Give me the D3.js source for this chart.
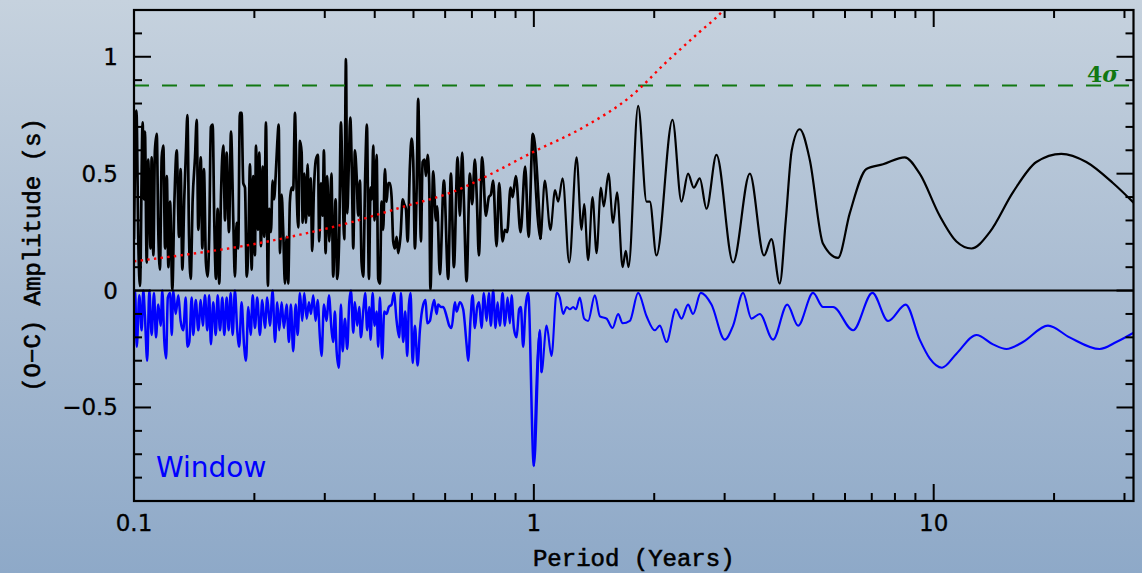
<!DOCTYPE html>
<html>
<head>
<meta charset="utf-8">
<script src="https://cdn.jsdelivr.net/npm/d3@7"></script>
<style>
  html, body { margin: 0; padding: 0; overflow: hidden; }
  svg { display: block; }
</style>
</head>
<body>
<svg id="chart" width="1142" height="573"></svg>
<script>
// Axis extents and ticks
const periodRange = [0.1, 31.6];
const ampRange = [-0.9, 1.2];
const xMajorTicks = [0.1, 1, 10];
const xMajorLabels = ["0.1", "1", "10"];
const xMinorTicks = [0.2, 0.3, 0.4, 0.5, 0.6, 0.7, 0.8, 0.9, 2, 3, 4, 5, 6, 7, 8, 9, 20, 30];
const yMajorTicks = [-0.5, 0, 0.5, 1];
const yMajorLabels = ["\u22120.5", "0", "0.5", "1"];
const yMinorTicks = [-0.8, -0.7, -0.6, -0.4, -0.3, -0.2, -0.1, 0.1, 0.2, 0.3, 0.4, 0.6, 0.7, 0.8, 0.9, 1.1];

// 4-sigma significance level
const sigmaLevel = 0.877;

// Detection threshold curve [period (yr), amplitude (s)]
const thresholdCurve = [
  [0.1, 0.125], [0.146, 0.162], [0.184, 0.188], [0.260, 0.239], [0.347, 0.291],
  [0.454, 0.350], [0.665, 0.440], [0.776, 0.496], [1.0, 0.594], [1.326, 0.697],
  [1.768, 0.838], [2.15, 0.979], [2.60, 1.107], [2.95, 1.192], [3.2, 1.27]
];

// O-C amplitude spectrum [period (yr), amplitude (s)]
const ocSpectrum = [
  [0.1000,0.22],[0.1014,0.77],[0.1026,0.18],[0.1035,0.02],[0.1051,0.72],[0.1059,0.39],[0.1065,0.68],[0.1076,0.12],
  [0.1085,0.56],[0.1100,0.18],[0.1107,0.57],[0.1118,0.15],[0.1128,0.60],[0.1140,0.67],[0.1150,0.26],[0.1161,0.09],
  [0.1173,0.57],[0.1184,0.62],[0.1196,0.18],[0.1208,0.49],[0.1219,0.10],[0.1231,0.38],[0.1247,0.005],[0.1261,0.36],
  [0.1279,0.60],[0.1296,0.23],[0.1308,0.52],[0.1321,0.09],[0.1336,0.40],[0.1349,0.60],[0.1360,0.75],[0.1373,0.23],
  [0.1386,0.05],[0.1402,0.39],[0.1421,0.57],[0.1435,0.73],[0.1448,0.26],[0.1469,0.57],[0.1482,0.18],[0.1496,0.52],
  [0.1513,0.12],[0.1528,0.06],[0.1542,0.23],[0.1557,0.70],[0.1573,0.71],[0.1588,0.29],[0.1603,0.05],[0.1619,0.35],
  [0.1634,0.03],[0.1650,0.40],[0.1672,0.62],[0.1689,0.30],[0.1705,0.59],[0.1728,0.25],[0.1748,0.68],[0.1772,0.29],
  [0.1788,0.06],[0.1806,0.29],[0.1822,0.18],[0.1840,0.76],[0.1858,0.76],[0.1876,0.46],[0.1895,0.44],[0.1914,0.06],
  [0.1931,0.18],[0.1950,0.54],[0.1969,0.09],[0.1987,0.49],[0.2007,0.15],[0.2018,0.62],[0.2042,0.26],[0.2057,0.59],
  [0.2077,0.19],[0.2098,0.53],[0.2117,0.23],[0.2138,0.72],[0.2162,0.02],[0.2179,0.35],[0.2200,0.25],[0.2222,0.47],
  [0.2239,0.39],[0.2261,0.49],[0.2282,0.63],[0.2301,0.71],[0.2318,0.16],[0.2340,0.41],[0.2362,0.25],[0.2385,0.03],
  [0.2408,0.23],[0.2430,0.03],[0.2454,0.38],[0.2478,0.44],[0.2501,0.43],[0.2527,0.76],[0.2551,0.43],[0.2575,0.27],
  [0.2600,0.64],[0.2626,0.59],[0.2641,0.29],[0.2666,0.50],[0.2692,0.29],[0.2718,0.54],[0.2739,0.32],[0.2766,0.48],
  [0.2791,0.17],[0.2818,0.43],[0.2851,0.56],[0.2884,0.58],[0.2905,0.21],[0.2934,0.46],[0.2963,0.32],[0.2985,0.60],
  [0.3014,0.16],[0.3042,0.49],[0.3078,0.21],[0.3117,0.50],[0.3149,0.06],[0.3193,0.39],[0.3223,0.05],[0.3260,0.23],
  [0.3292,0.72],[0.3325,0.44],[0.3356,0.22],[0.3389,0.99],[0.3414,0.33],[0.3448,0.56],[0.3474,0.74],[0.3508,0.49],
  [0.3535,0.18],[0.3568,0.60],[0.3604,0.49],[0.3637,0.32],[0.3673,0.47],[0.3708,0.12],[0.3743,0.06],[0.3786,0.49],
  [0.3824,0.71],[0.3868,0.05],[0.3906,0.44],[0.3935,0.39],[0.3965,0.62],[0.3997,0.30],[0.4044,0.58],[0.4081,0.05],
  [0.4121,0.03],[0.4161,0.38],[0.4200,0.26],[0.4241,0.52],[0.4283,0.38],[0.4322,0.46],[0.4365,0.46],[0.4408,0.40],
  [0.4449,0.21],[0.4493,0.18],[0.4537,0.23],[0.4579,0.16],[0.4643,0.24],[0.4697,0.39],[0.4740,0.37],[0.4787,0.35],
  [0.4834,0.21],[0.4898,0.53],[0.4946,0.65],[0.4992,0.56],[0.5041,0.18],[0.5091,0.43],[0.5137,0.82],[0.5188,0.40],
  [0.5218,0.21],[0.5270,0.55],[0.5330,0.56],[0.5371,0.49],[0.5423,0.58],[0.5474,0.46],[0.5512,0.005],[0.5602,0.51],
  [0.5688,0.30],[0.5731,0.36],[0.5820,0.07],[0.5957,0.47],[0.6106,0.05],[0.6202,0.50],[0.6310,0.10],[0.6446,0.57],
  [0.6532,0.32],[0.6619,0.59],[0.6683,0.39],[0.6788,0.04],[0.6918,0.50],[0.7011,0.37],[0.7120,0.56],[0.7202,0.39],
  [0.7286,0.15],[0.7425,0.57],[0.7586,0.32],[0.7718,0.40],[0.7807,0.41],[0.7911,0.47],[0.8068,0.19],[0.8189,0.46],
  [0.8351,0.21],[0.8463,0.26],[0.8576,0.25],[0.8745,0.44],[0.8847,0.40],[0.9016,0.49],[0.9263,0.25],[0.9512,0.53],
  [0.9701,0.23],[0.994,0.67],[1.039,0.22],[1.065,0.47],[1.100,0.26],[1.130,0.43],[1.150,0.38],[1.180,0.48],
  [1.226,0.12],[1.279,0.57],[1.316,0.26],[1.336,0.37],[1.367,0.13],[1.402,0.40],[1.435,0.16],[1.471,0.44],
  [1.496,0.36],[1.537,0.50],[1.578,0.29],[1.615,0.42],[1.667,0.10],[1.698,0.17],[1.725,0.10],[1.823,0.79],
  [1.914,0.38],[1.950,0.38],[2.026,0.15],[2.222,0.73],[2.340,0.38],[2.430,0.50],[2.512,0.44],[2.600,0.48],
  [2.703,0.35],[2.862,0.58],[3.150,0.12],[3.468,0.50],[3.764,0.15],[3.928,0.22],[4.121,0.03],[4.266,0.30],
  [4.416,0.60],[4.624,0.69],[4.898,0.56],[5.288,0.20],[5.764,0.14],[6.166,0.33],[6.788,0.52],[7.469,0.54],
  [8.463,0.57],[9.226,0.50],[10.35,0.32],[11.40,0.21],[12.43,0.18],[13.81,0.25],[15.78,0.42],[18.06,0.55],
  [20.85,0.585],[24.08,0.55],[28.07,0.46],[31.62,0.376]
];

// Spectral window, plotted downward [period (yr), amplitude (s)]
const windowSpectrum = [
  [0.1000,0],[0.1006,0],[0.1016,-0.24],[0.1031,-0.02],[0.1045,-0.17],[0.1055,0],[0.1065,-0.11],[0.1079,-0.30],
  [0.1092,0],[0.1107,-0.19],[0.1122,-0.01],[0.1135,-0.20],[0.1150,-0.06],[0.1166,-0.15],[0.1177,0],[0.1191,-0.22],
  [0.1203,-0.29],[0.1215,-0.03],[0.1231,-0.01],[0.1243,-0.19],[0.1254,0],[0.1271,-0.10],[0.1291,-0.02],[0.1308,-0.13],
  [0.1328,-0.17],[0.1347,-0.03],[0.1360,-0.24],[0.1375,-0.22],[0.1394,-0.03],[0.1407,-0.19],[0.1427,-0.04],[0.1448,-0.17],
  [0.1469,-0.04],[0.1486,-0.15],[0.1505,-0.02],[0.1525,-0.17],[0.1542,-0.02],[0.1557,-0.23],[0.1578,-0.05],[0.1601,-0.19],
  [0.1619,-0.02],[0.1641,-0.17],[0.1663,-0.03],[0.1682,-0.19],[0.1705,-0.03],[0.1725,-0.17],[0.1745,-0.01],[0.1765,-0.19],
  [0.1788,0],[0.1812,-0.17],[0.1833,-0.24],[0.1858,-0.05],[0.1884,-0.23],[0.1906,-0.30],[0.1931,-0.07],[0.1958,-0.19],
  [0.1981,-0.02],[0.2007,-0.16],[0.2033,-0.03],[0.2065,-0.19],[0.2093,-0.04],[0.2125,-0.16],[0.2154,-0.03],[0.2187,-0.15],
  [0.2222,0],[0.2252,-0.22],[0.2282,-0.05],[0.2308,-0.17],[0.2340,-0.05],[0.2371,-0.16],[0.2408,-0.06],[0.2440,-0.22],
  [0.2468,-0.06],[0.2501,-0.26],[0.2537,-0.06],[0.2566,-0.19],[0.2600,-0.01],[0.2635,-0.13],[0.2666,-0.01],[0.2703,-0.12],
  [0.2739,-0.05],[0.2770,-0.10],[0.2807,-0.02],[0.2846,-0.13],[0.2879,-0.04],[0.2917,-0.20],[0.2945,-0.28],[0.2985,-0.06],
  [0.3032,-0.13],[0.3072,-0.02],[0.3120,-0.17],[0.3149,-0.22],[0.3180,-0.09],[0.3212,-0.26],[0.3254,-0.33],[0.3292,-0.06],
  [0.3325,-0.26],[0.3369,-0.12],[0.3414,-0.25],[0.3454,-0.05],[0.3488,0],[0.3535,-0.18],[0.3568,-0.05],[0.3616,-0.15],
  [0.3658,-0.07],[0.3694,-0.20],[0.3743,-0.09],[0.3786,-0.01],[0.3830,-0.17],[0.3875,-0.07],[0.3906,-0.21],[0.3951,-0.01],
  [0.3997,-0.15],[0.4044,-0.09],[0.4081,-0.24],[0.4121,-0.03],[0.4176,-0.29],[0.4224,-0.09],[0.4283,-0.10],[0.4340,-0.07],
  [0.4408,-0.06],[0.4467,-0.01],[0.4537,-0.13],[0.4606,-0.20],[0.4651,-0.01],[0.4712,-0.22],[0.4768,-0.09],[0.4823,-0.28],
  [0.4870,-0.06],[0.4918,-0.01],[0.4975,-0.31],[0.5041,-0.15],[0.5120,-0.32],[0.5188,-0.17],[0.5288,-0.06],[0.5361,-0.04],
  [0.5411,-0.14],[0.5495,-0.13],[0.5549,-0.09],[0.5633,-0.04],[0.5711,-0.10],[0.5764,-0.06],[0.5854,-0.07],[0.5932,-0.07],
  [0.6051,-0.11],[0.6142,-0.15],[0.6226,-0.16],[0.6346,-0.05],[0.6409,-0.09],[0.6532,-0.05],[0.6656,-0.08],[0.6788,-0.23],
  [0.6850,-0.30],[0.6946,-0.12],[0.7027,-0.02],[0.7120,-0.16],[0.7215,-0.07],[0.7298,-0.05],[0.7399,-0.16],[0.7499,-0.01],
  [0.7617,-0.13],[0.7718,-0.01],[0.7807,-0.15],[0.7911,0],[0.8021,-0.16],[0.8114,-0.05],[0.8222,-0.15],[0.8351,-0.01],
  [0.8463,-0.15],[0.8595,-0.03],[0.8709,-0.14],[0.8794,-0.02],[0.8913,-0.16],[0.9053,-0.20],[0.9189,-0.08],[0.9279,-0.07],
  [0.9402,-0.24],[0.9534,-0.07],[0.9677,-0.01],[1.000,-0.75],[1.035,-0.17],[1.045,-0.35],[1.076,-0.15],[1.107,-0.28],
  [1.140,-0.01],[1.161,-0.03],[1.184,-0.10],[1.208,-0.07],[1.231,-0.08],[1.254,-0.07],[1.274,-0.08],[1.303,-0.03],
  [1.336,-0.12],[1.367,-0.13],[1.421,-0.02],[1.463,-0.11],[1.520,-0.12],[1.573,-0.16],[1.625,-0.10],[1.667,-0.14],
  [1.738,-0.13],[1.823,-0.01],[1.914,-0.11],[2.007,-0.17],[2.065,-0.15],[2.146,-0.22],[2.265,-0.08],[2.340,-0.12],
  [2.430,-0.06],[2.501,-0.10],[2.615,-0.01],[2.781,-0.06],[3.002,-0.21],[3.150,-0.15],[3.336,-0.01],[3.501,-0.12],
  [3.673,-0.10],[3.965,-0.21],[4.303,-0.06],[4.579,-0.15],[4.992,-0.01],[5.288,-0.07],[5.602,-0.07],[6.284,-0.17],
  [7.027,-0.01],[7.687,-0.13],[8.511,-0.06],[9.226,-0.21],[9.772,-0.29],[10.49,-0.33],[11.40,-0.27],[12.79,-0.19],
  [14.07,-0.23],[15.20,-0.25],[16.72,-0.22],[19.31,-0.15],[21.87,-0.20],[26.00,-0.25],[28.62,-0.22],[31.62,-0.18]
];

// Period where the densely sampled part of each spectrum ends
const densePeriodLimit = 1.0;

const W = 1142, H = 573;
const frame = { left: 134, right: 1133.5, top: 10, bottom: 501 };
const svg = d3.select("#chart");

// Background wash
const defs = svg.append("defs");
const grad = defs.append("linearGradient").attr("id", "bg").attr("x1", 0).attr("y1", 0).attr("x2", 0).attr("y2", 1);
grad.append("stop").attr("offset", "0%").attr("stop-color", "#c6d2de");
grad.append("stop").attr("offset", "50%").attr("stop-color", "#a9bcd2");
grad.append("stop").attr("offset", "100%").attr("stop-color", "#8ea9c8");
svg.append("rect").attr("width", W).attr("height", H).attr("fill", "url(#bg)");

defs.append("clipPath").attr("id", "plotClip").append("rect")
  .attr("x", frame.left).attr("y", frame.top)
  .attr("width", frame.right - frame.left).attr("height", frame.bottom - frame.top);

const x = d3.scaleLog().domain(periodRange).range([frame.left, frame.right]);
const y = d3.scaleLinear().domain(ampRange).range([frame.bottom, frame.top]);

const line = d3.line().x(d => x(d[0])).y(d => y(d[1])).curve(d3.curveMonotoneX);
const plot = svg.append("g").attr("clip-path", "url(#plotClip)");

// Draw a spectrum: heavier stroke where sampling is dense, lighter in the smooth long-period part
function drawSpectrum(data, color, denseWidth, smoothWidth) {
  const dense = data.filter(d => d[0] <= densePeriodLimit * 1.05);
  const smooth = data.filter(d => d[0] >= densePeriodLimit * 0.99);
  plot.append("path").datum(smooth)
    .attr("d", line).attr("fill", "none")
    .attr("stroke", color).attr("stroke-width", smoothWidth).attr("stroke-linejoin", "round");
  plot.append("path").datum(dense)
    .attr("d", line).attr("fill", "none")
    .attr("stroke", color).attr("stroke-width", denseWidth).attr("stroke-linejoin", "round");
}

drawSpectrum(windowSpectrum, "#0000ff", 2.5, 2.1);
drawSpectrum(ocSpectrum, "#000000", 2.7, 2.2);

// Zero line
plot.append("line")
  .attr("x1", frame.left).attr("x2", frame.right)
  .attr("y1", y(0)).attr("y2", y(0))
  .attr("stroke", "#000").attr("stroke-width", 2);

// 4-sigma line
plot.append("line")
  .attr("x1", frame.left).attr("x2", frame.right)
  .attr("y1", y(sigmaLevel)).attr("y2", y(sigmaLevel))
  .attr("stroke", "#127812").attr("stroke-width", 2.2)
  .attr("stroke-dasharray", "15 13");

// Threshold curve (red dotted)
plot.append("path").datum(thresholdCurve)
  .attr("d", line).attr("fill", "none")
  .attr("stroke", "#ff0000").attr("stroke-width", 2.4)
  .attr("stroke-dasharray", "2.4 4.3");

// Frame
svg.append("rect")
  .attr("x", frame.left).attr("y", frame.top)
  .attr("width", frame.right - frame.left).attr("height", frame.bottom - frame.top)
  .attr("fill", "none").attr("stroke", "#000").attr("stroke-width", 2.2);

// Inward ticks on all four sides
const ticks = svg.append("g").attr("stroke", "#000").attr("stroke-width", 2);
const majorLen = 17, minorLen = 8;
function xTick(v, len) {
  ticks.append("line").attr("x1", x(v)).attr("x2", x(v)).attr("y1", frame.bottom).attr("y2", frame.bottom - len);
  ticks.append("line").attr("x1", x(v)).attr("x2", x(v)).attr("y1", frame.top).attr("y2", frame.top + len);
}
function yTick(v, len) {
  ticks.append("line").attr("y1", y(v)).attr("y2", y(v)).attr("x1", frame.left).attr("x2", frame.left + len);
  ticks.append("line").attr("y1", y(v)).attr("y2", y(v)).attr("x1", frame.right).attr("x2", frame.right - len);
}
xMajorTicks.forEach(v => xTick(v, majorLen));
xMinorTicks.forEach(v => xTick(v, minorLen));
yMajorTicks.forEach(v => yTick(v, majorLen));
yMinorTicks.forEach(v => yTick(v, minorLen));

// Tick labels
const labelFont = "'DejaVu Sans', sans-serif";
svg.append("g").selectAll("text").data(xMajorTicks).join("text")
  .attr("x", d => x(d)).attr("y", 531)
  .attr("text-anchor", "middle")
  .attr("font-family", labelFont).attr("font-size", 23)
  .attr("fill", "#000").attr("stroke", "#000").attr("stroke-width", 0.3)
  .text((d, i) => xMajorLabels[i]);

svg.append("g").selectAll("text").data(yMajorTicks).join("text")
  .attr("x", 118).attr("y", d => y(d) + 8)
  .attr("text-anchor", "end")
  .attr("font-family", labelFont).attr("font-size", 23)
  .attr("fill", "#000").attr("stroke", "#000").attr("stroke-width", 0.3)
  .text((d, i) => yMajorLabels[i]);

// Axis titles
const titleFont = "'Liberation Mono', monospace";
svg.append("text")
  .attr("x", (frame.left + frame.right) / 2).attr("y", 566)
  .attr("text-anchor", "middle")
  .attr("font-family", titleFont).attr("font-size", 24)
  .attr("fill", "#000").attr("stroke", "#000").attr("stroke-width", 0.6)
  .text("Period (Years)");

svg.append("text")
  .attr("transform", "translate(40," + 255 + ") rotate(-90)")
  .attr("text-anchor", "middle")
  .attr("font-family", titleFont).attr("font-size", 24)
  .attr("fill", "#000").attr("stroke", "#000").attr("stroke-width", 0.6)
  .text("(O\u2212C) Amplitude (s)");

// Annotations
svg.append("text")
  .attr("x", 156).attr("y", 477)
  .attr("font-family", labelFont).attr("font-size", 28)
  .attr("fill", "#0000ff")
  .text("Window");

const sig = svg.append("text")
  .attr("x", 1087).attr("y", 82)
  .attr("font-family", "'DejaVu Serif', serif").attr("font-size", 22)
  .attr("font-weight", "bold")
  .attr("fill", "#127812");
sig.append("tspan").text("4");
sig.append("tspan").attr("font-style", "italic").text("\u03c3");
</script>
</body>
</html>
